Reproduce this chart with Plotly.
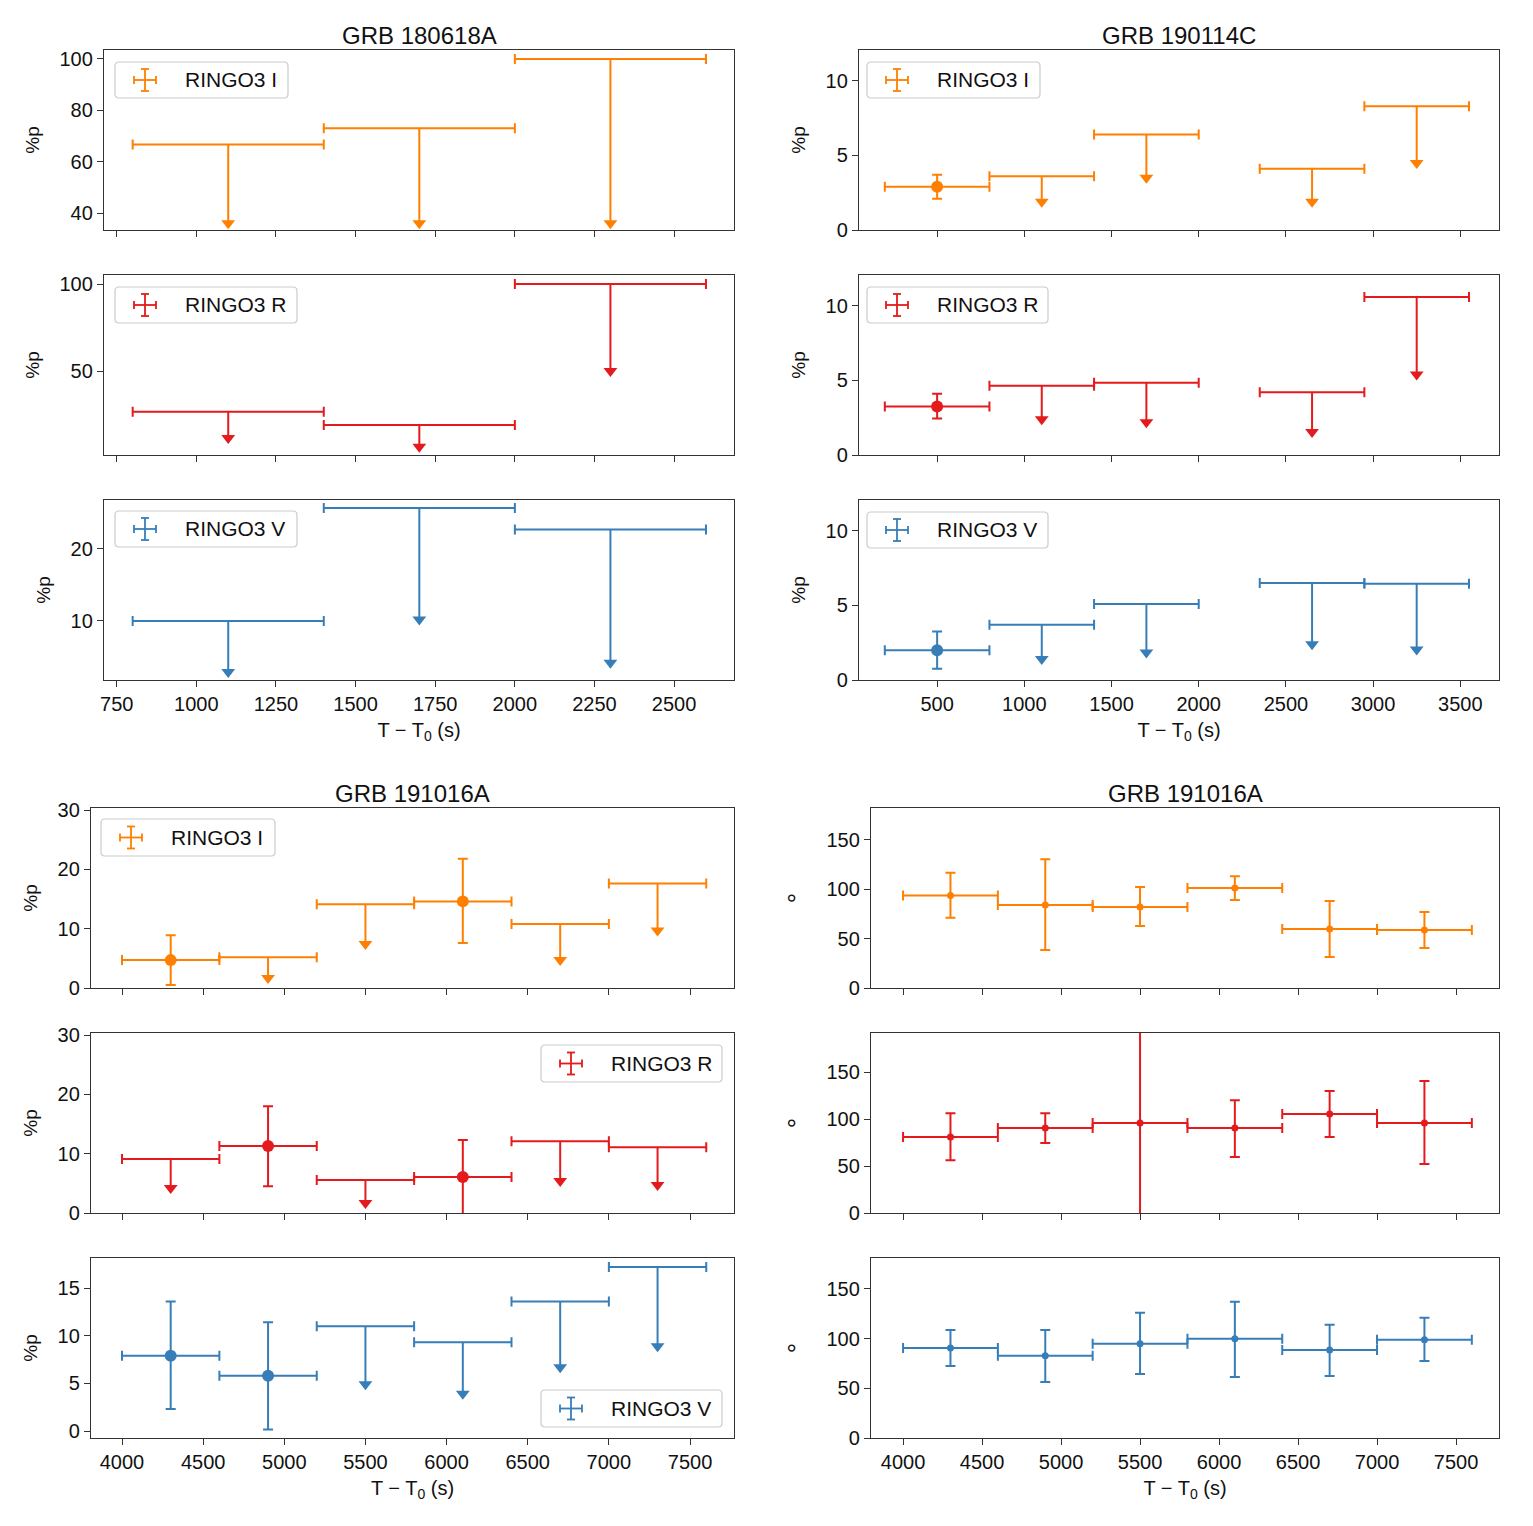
import plotly.graph_objects as go

# ------------------------------------------------------------------ data
band_names = ["RINGO3 I", "RINGO3 R", "RINGO3 V"]

# GRB 180618A -- polarisation degree (%p), all upper limits
g1_t_lo = [800, 1400, 2000]
g1_t_hi = [1400, 2000, 2600]
g1_I_val = [66.7, 73.0, 100.0]
g1_I_lo = [36.0, 36.0, 36.0]
g1_I_hi = [None, None, None]
g1_I_ul = [True, True, True]
g1_R_val = [26.5, 19.0, 100.0]
g1_R_lo = [11.5, 6.4, 50.0]
g1_R_hi = [None, None, None]
g1_R_ul = [True, True, True]
g1_V_val = [10.0, 25.7, 22.7]
g1_V_lo = [2.9, 10.2, 4.2]
g1_V_hi = [None, None, None]
g1_V_ul = [True, True, True]

# GRB 190114C -- polarisation degree (%p)
g2_t_lo = [200, 800, 1400, 2350, 2950]
g2_t_hi = [800, 1400, 2000, 2950, 3550]
g2_I_val = [2.9, 3.6, 6.4, 4.1, 8.3]
g2_I_lo = [2.1, 1.9, 3.5, 1.9, 4.5]
g2_I_hi = [3.7, None, None, None, None]
g2_I_ul = [False, True, True, True, True]
g2_R_val = [3.25, 4.65, 4.85, 4.2, 10.6]
g2_R_lo = [2.45, 2.4, 2.2, 1.55, 5.4]
g2_R_hi = [4.1, None, None, None, None]
g2_R_ul = [False, True, True, True, True]
g2_V_val = [2.0, 3.7, 5.1, 6.5, 6.45]
g2_V_lo = [0.75, 1.4, 1.85, 2.4, 2.05]
g2_V_hi = [3.25, None, None, None, None]
g2_V_ul = [False, True, True, True, True]

# GRB 191016A -- polarisation degree (%p)
g3_t_lo = [4000, 4600, 5200, 5800, 6400, 7000]
g3_t_hi = [4600, 5200, 5800, 6400, 7000, 7600]
g3_I_val = [4.7, 5.2, 14.1, 14.6, 10.8, 17.6]
g3_I_lo = [0.5, 1.7, 7.4, 7.6, 4.7, 9.7]
g3_I_hi = [8.9, None, None, 21.8, None, None]
g3_I_ul = [False, True, True, False, True, True]
g3_R_val = [9.1, 11.3, 5.55, 6.05, 12.1, 11.1]
g3_R_lo = [4.2, 4.5, 1.7, -0.2, 5.4, 4.7]
g3_R_hi = [None, 18.0, None, 12.3, None, None]
g3_R_ul = [True, False, True, False, True, True]
g3_V_val = [7.9, 5.8, 11.0, 9.3, 13.6, 17.2]
g3_V_lo = [2.3, 0.15, 4.9, 3.9, 6.7, 8.9]
g3_V_hi = [13.6, 11.4, None, None, None, None]
g3_V_ul = [False, False, True, True, True, True]

# GRB 191016A -- polarisation angle (deg)
g4_t_lo = [4000, 4600, 5200, 5800, 6400, 7000]
g4_t_hi = [4600, 5200, 5800, 6400, 7000, 7600]
g4_I_val = [93.6, 83.8, 81.8, 101.0, 59.6, 58.6]
g4_I_lo = [71.0, 38.4, 62.6, 89.0, 31.3, 40.4]
g4_I_hi = [116.5, 130.3, 102.0, 113.0, 87.9, 76.8]
g4_I_ul = [False] * 6
g4_R_val = [80.9, 90.4, 95.7, 90.4, 105.3, 95.7]
g4_R_lo = [56.0, 74.5, -30.0, 59.6, 80.9, 52.1]
g4_R_hi = [106.0, 106.0, 220.0, 120.0, 129.8, 140.4]
g4_R_ul = [False] * 6
g4_V_val = [90.6, 82.6, 94.7, 99.7, 88.6, 98.7]
g4_V_lo = [72.5, 56.4, 64.4, 61.4, 62.4, 77.5]
g4_V_hi = [108.7, 108.7, 125.9, 137.0, 113.8, 120.8]
g4_V_ul = [False] * 6

titles = ["GRB 180618A", "GRB 190114C", "GRB 191016A", "GRB 191016A"]
x_ticks = [[750, 1000, 1250, 1500, 1750, 2000, 2250, 2500],
           [500, 1000, 1500, 2000, 2500, 3000, 3500],
           [4000, 4500, 5000, 5500, 6000, 6500, 7000, 7500],
           [4000, 4500, 5000, 5500, 6000, 6500, 7000, 7500]]
y_ticks = [[[40, 60, 80, 100], [50, 100], [10, 20]],
           [[0, 5, 10], [0, 5, 10], [0, 5, 10]],
           [[0, 10, 20, 30], [0, 10, 20, 30], [0, 5, 10, 15]],
           [[0, 50, 100, 150], [0, 50, 100, 150], [0, 50, 100, 150]]]
y_titles = ["%p", "%p", "%p", "°"]

series = [
    [(g1_t_lo, g1_t_hi, g1_I_val, g1_I_lo, g1_I_hi, g1_I_ul),
     (g1_t_lo, g1_t_hi, g1_R_val, g1_R_lo, g1_R_hi, g1_R_ul),
     (g1_t_lo, g1_t_hi, g1_V_val, g1_V_lo, g1_V_hi, g1_V_ul)],
    [(g2_t_lo, g2_t_hi, g2_I_val, g2_I_lo, g2_I_hi, g2_I_ul),
     (g2_t_lo, g2_t_hi, g2_R_val, g2_R_lo, g2_R_hi, g2_R_ul),
     (g2_t_lo, g2_t_hi, g2_V_val, g2_V_lo, g2_V_hi, g2_V_ul)],
    [(g3_t_lo, g3_t_hi, g3_I_val, g3_I_lo, g3_I_hi, g3_I_ul),
     (g3_t_lo, g3_t_hi, g3_R_val, g3_R_lo, g3_R_hi, g3_R_ul),
     (g3_t_lo, g3_t_hi, g3_V_val, g3_V_lo, g3_V_hi, g3_V_ul)],
    [(g4_t_lo, g4_t_hi, g4_I_val, g4_I_lo, g4_I_hi, g4_I_ul),
     (g4_t_lo, g4_t_hi, g4_R_val, g4_R_lo, g4_R_hi, g4_R_ul),
     (g4_t_lo, g4_t_hi, g4_V_val, g4_V_lo, g4_V_hi, g4_V_ul)],
]

# ------------------------------------------------------------------ style / layout
# the page body adds an 8 px margin, so the figure is drawn 8 px in and 16 px smaller
PAGE_PAD = 8
W, H = 1533 - 2 * PAGE_PAD, 1526 - 2 * PAGE_PAD
FONT = "Liberation Sans, Arial, sans-serif"
colors = ["#ff7f00", "#e41a1c", "#377eb8"]
AX = "#333333"
TXT = "#111111"

# axis boxes in screen pixels
col_px = [(104, 734), (859, 1499), (91, 734), (871, 1499)]
row_px = [[(50, 230), (275, 455), (500, 680)]] * 2 + \
         [[(808, 988), (1033, 1213), (1258, 1438)]] * 2
x_ranges = [[710, 2688], [52, 3722], [3809, 7771], [3797, 7772]]
y_ranges = [[[33.4, 103.5], [1.7, 105.2], [1.8, 26.8]],
            [[0, 12.07], [0, 12.07], [0, 12.07]],
            [[0, 30.34], [0, 30.34], [-0.73, 18.15]],
            [[0, 182], [0, 191.5], [0, 181]]]
marker_size = [12, 12, 12, 7]
y_title_size = [19, 19, 19, 26]
y_title_standoff = [14, 14, 14, 12]
# legend boxes, px relative to the axis top-left corner: (x0, y0, x1, y1)
legend_boxes = [
    [(11, 12, 184, 48), (11, 12, 193, 48), (11, 11, 193, 47)],
    [(8, 12, 181, 48), (8, 12, 189, 48), (8, 12, 189, 48)],
    [(10, 11, 184, 48), (450, 12, 631, 49), (450, 132, 631, 169)],
    None,
]


def px_x(p):
    return (p - PAGE_PAD) / W


def px_y(p):
    return 1 - (p - PAGE_PAD) / H


fig = go.Figure()
layout = dict(width=W, height=H, margin=dict(l=0, r=0, t=0, b=0, autoexpand=False),
              template="none",
              paper_bgcolor="white", plot_bgcolor="white", showlegend=False,
              font=dict(family=FONT, size=20, color=TXT))
shapes, annotations = [], []


def rounded_path(x0, y0, x1, y1, wpx, hpx, r=4):
    fx = lambda p: p / wpx
    fy = lambda p: 1 - p / hpx
    return (f"M {fx(x0 + r)} {fy(y0)} L {fx(x1 - r)} {fy(y0)} "
            f"Q {fx(x1)} {fy(y0)} {fx(x1)} {fy(y0 + r)} "
            f"L {fx(x1)} {fy(y1 - r)} Q {fx(x1)} {fy(y1)} {fx(x1 - r)} {fy(y1)} "
            f"L {fx(x0 + r)} {fy(y1)} Q {fx(x0)} {fy(y1)} {fx(x0)} {fy(y1 - r)} "
            f"L {fx(x0)} {fy(y0 + r)} Q {fx(x0)} {fy(y0)} {fx(x0 + r)} {fy(y0)} Z")


for g in range(4):
    cx0, cx1 = col_px[g]
    wpx = cx1 - cx0
    for r in range(3):
        idx = g * 3 + r + 1
        xn = "xaxis" if idx == 1 else f"xaxis{idx}"
        yn = "yaxis" if idx == 1 else f"yaxis{idx}"
        xr = "x" if idx == 1 else f"x{idx}"
        yr = "y" if idx == 1 else f"y{idx}"
        ry0, ry1 = row_px[g][r]
        hpx = ry1 - ry0
        common = dict(showline=True, mirror=True, linecolor=AX, linewidth=1.3,
                      ticks="outside", ticklen=6, tickwidth=1.2, tickcolor=AX,
                      showgrid=False, zeroline=False, automargin=False,
                      tickfont=dict(family=FONT, size=20, color=TXT))
        layout[xn] = dict(common, domain=[px_x(cx0), px_x(cx1)], anchor=yr,
                          range=x_ranges[g], tickvals=x_ticks[g],
                          showticklabels=(r == 2))
        if r == 2:
            layout[xn]["title"] = dict(text="T − T<sub>0</sub> (s)",
                                       font=dict(family=FONT, size=20, color=TXT),
                                       standoff=8)
        layout[yn] = dict(common, domain=[px_y(ry1), px_y(ry0)], anchor=xr,
                          range=y_ranges[g][r], tickvals=y_ticks[g][r],
                          title=dict(text=y_titles[g],
                                     font=dict(family=FONT, size=y_title_size[g],
                                               color=TXT),
                                     standoff=y_title_standoff[g]))

        t_lo, t_hi, val, elo, ehi, ul = series[g][r]
        col = colors[r]
        xc = [(a + b) / 2 for a, b in zip(t_lo, t_hi)]
        det = [i for i, u in enumerate(ul) if not u]
        lim = [i for i, u in enumerate(ul) if u]
        if lim:
            fig.add_trace(go.Scatter(
                x=[xc[i] for i in lim], y=[val[i] for i in lim], mode="markers",
                marker=dict(size=1, color=col), xaxis=xr, yaxis=yr,
                error_x=dict(type="data", symmetric=False,
                             array=[t_hi[i] - xc[i] for i in lim],
                             arrayminus=[xc[i] - t_lo[i] for i in lim],
                             color=col, thickness=2, width=5),
                error_y=dict(type="data", symmetric=False,
                             array=[0 for i in lim],
                             arrayminus=[val[i] - elo[i] for i in lim],
                             color=col, thickness=2, width=0)))
            fig.add_trace(go.Scatter(
                x=[xc[i] for i in lim], y=[elo[i] for i in lim], mode="markers",
                marker=dict(symbol="triangle-down", size=12, color=col,
                            line=dict(width=0)),
                xaxis=xr, yaxis=yr))
        if det:
            fig.add_trace(go.Scatter(
                x=[xc[i] for i in det], y=[val[i] for i in det], mode="markers",
                marker=dict(size=marker_size[g], color=col, line=dict(width=0)),
                xaxis=xr, yaxis=yr,
                error_x=dict(type="data", symmetric=False,
                             array=[t_hi[i] - xc[i] for i in det],
                             arrayminus=[xc[i] - t_lo[i] for i in det],
                             color=col, thickness=2, width=5),
                error_y=dict(type="data", symmetric=False,
                             array=[ehi[i] - val[i] for i in det],
                             arrayminus=[val[i] - elo[i] for i in det],
                             color=col, thickness=2, width=5)))

        # legend box
        if legend_boxes[g] is not None:
            bx0, by0, bx1, by1 = legend_boxes[g][r]
            dref_x, dref_y = f"{xr} domain", f"{yr} domain"
            shapes.append(dict(type="path", xref=dref_x, yref=dref_y,
                               path=rounded_path(bx0, by0, bx1, by1, wpx, hpx),
                               fillcolor="rgba(255,255,255,0.85)",
                               line=dict(color="#cccccc", width=1.2), layer="above"))
            icx, icy = bx0 + 30, (by0 + by1) / 2
            hl, cap = 11, 4
            segs = [(icx - hl, icy, icx + hl, icy), (icx, icy - hl, icx, icy + hl),
                    (icx - hl, icy - cap, icx - hl, icy + cap),
                    (icx + hl, icy - cap, icx + hl, icy + cap),
                    (icx - cap, icy - hl, icx + cap, icy - hl),
                    (icx - cap, icy + hl, icx + cap, icy + hl)]
            for (a, b, c, d) in segs:
                shapes.append(dict(type="line", xref=dref_x, yref=dref_y,
                                   x0=a / wpx, x1=c / wpx, y0=1 - b / hpx, y1=1 - d / hpx,
                                   line=dict(color=col, width=1.8), layer="above"))
            annotations.append(dict(xref=dref_x, yref=dref_y, x=(bx0 + 68) / wpx,
                                    y=1 - icy / hpx, xanchor="left", yanchor="middle",
                                    text=band_names[r], showarrow=False,
                                    font=dict(family=FONT, size=21, color=TXT)))

    # group title
    annotations.append(dict(xref="paper", yref="paper", x=px_x((cx0 + cx1) / 2),
                            y=px_y(row_px[g][0][0] - 15), xanchor="center",
                            yanchor="middle", text=titles[g], showarrow=False,
                            font=dict(family=FONT, size=24, color=TXT)))

layout["shapes"] = shapes
layout["annotations"] = annotations
fig.update_layout(**layout)
fig.write_html("out.html")
